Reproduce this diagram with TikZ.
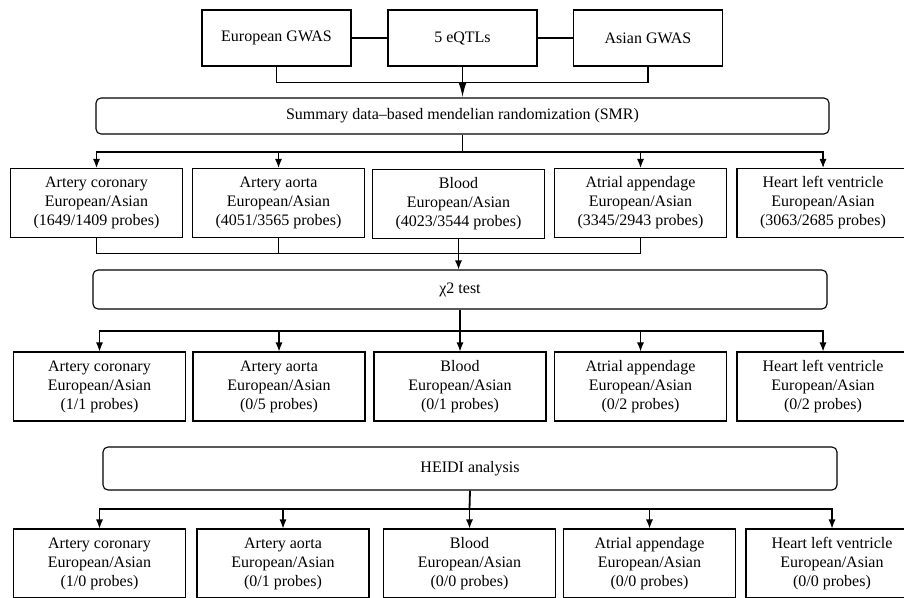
\documentclass[tikz,border=0pt]{standalone}
\usepackage{fontspec}
\setmainfont{Liberation Serif}
\usetikzlibrary{arrows.meta}
\begin{document}
\begin{tikzpicture}[x=1pt,y=-1pt,
  txt/.style={font=\fontsize{16}{19}\selectfont},
  box/.style={txt, draw, line width=1.1pt, minimum width=172pt, minimum height=69pt, align=center, inner sep=0pt},
  topbox/.style={txt, draw, line width=1.1pt, minimum width=149pt, minimum height=56pt, inner sep=0pt},
  wide/.style={txt, draw, rounded corners=5pt, line width=1.1pt, inner sep=0pt},
  conn/.style={line width=1.1pt},
  trunk/.style={line width=1.8pt},
  arr/.style={line width=1.1pt, -{Latex[length=9pt,width=7pt]}},
  bigarr/.style={line width=1.6pt, -{Latex[length=15pt,width=8pt]}}]
\useasboundingbox (0,0) rectangle (904,597);
\clip (0,0) rectangle (904,597);

% top row
\node[topbox] (eu) at (276.5,38) {European GWAS};
\node[topbox] (eq) at (462.5,38) {5 eQTLs};
\node[topbox] (as) at (648,38) {Asian GWAS};
\draw[conn] (eu.east) -- (eq.west);
\draw[conn] (eq.east) -- (as.west);
\draw[conn] (eu.south) -- ++(0,16) -| (as.south);

\node[wide, minimum width=733pt, minimum height=36pt] (smr) at (462.5,116) {Summary data--based mendelian randomization (SMR)};
\draw[bigarr] (eq.south) -- (smr.north);

% row 1
\node[box] (r1a) at (96.5,203) {Artery coronary\\European/Asian\\(1649/1409 probes)};
\node[box] (r1b) at (278.5,203) {Artery aorta\\European/Asian\\(4051/3565 probes)};
\node[box] (r1c) at (458.5,204) {Blood\\European/Asian\\(4023/3544 probes)};
\node[box] (r1d) at (640.5,203) {Atrial appendage\\European/Asian\\(3345/2943 probes)};
\node[box] (r1e) at (823,203) {Heart left ventricle\\European/Asian\\(3063/2685 probes)};

\coordinate (s1) at (462.5,152);
\draw[trunk] (smr.south) -- (s1);
\draw[arr] (s1) -| (r1a.north);
\draw[arr] (s1) -| (r1b.north);
\draw[arr] (s1) -| (r1d.north);
\draw[arr] (s1) -| (r1e.north);

\node[wide, minimum width=734pt, minimum height=39pt] (chi) at (460,289.5) {χ2 test};
\draw[conn] (r1a.south) -- ++(0,15) -| (r1d.south);
\draw[conn] (r1b.south) -- ++(0,15);
\draw[arr] (r1c.south) -- (r1c.south |- chi.north);

% row 2
\node[box] (r2a) at (99.5,386.5) {Artery coronary\\European/Asian\\(1/1 probes)};
\node[box] (r2b) at (279,386.5) {Artery aorta\\European/Asian\\(0/5 probes)};
\node[box] (r2c) at (460,386.5) {Blood\\European/Asian\\(0/1 probes)};
\node[box] (r2d) at (640.5,386.5) {Atrial appendage\\European/Asian\\(0/2 probes)};
\node[box] (r2e) at (823,386.5) {Heart left ventricle\\European/Asian\\(0/2 probes)};

\coordinate (s2) at (460,331);
\draw[trunk] (chi.south) -- (s2);
\draw[arr] (s2) -| (r2a.north);
\draw[arr] (s2) -| (r2b.north);
\draw[arr] (s2) -- (r2c.north);
\draw[arr] (s2) -| (r2d.north);
\draw[arr] (s2) -| (r2e.north);

% HEIDI
\node[wide, minimum width=734pt, minimum height=43pt] (heidi) at (470,468.5) {HEIDI analysis};

% row 3
\node[box] (r3a) at (99.5,563.5) {Artery coronary\\European/Asian\\(1/0 probes)};
\node[box] (r3b) at (283,563.5) {Artery aorta\\European/Asian\\(0/1 probes)};
\node[box] (r3c) at (469.5,563.5) {Blood\\European/Asian\\(0/0 probes)};
\node[box] (r3d) at (649.5,563.5) {Atrial appendage\\European/Asian\\(0/0 probes)};
\node[box] (r3e) at (832,563.5) {Heart left ventricle\\European/Asian\\(0/0 probes)};

\coordinate (s3) at (469.5,509);
\draw[trunk] (heidi.south) -- (s3);
\draw[arr] (s3) -| (r3a.north);
\draw[arr] (s3) -| (r3b.north);
\draw[arr] (s3) -- (r3c.north);
\draw[arr] (s3) -| (r3d.north);
\draw[arr] (s3) -| (r3e.north);
\end{tikzpicture}
\end{document}
